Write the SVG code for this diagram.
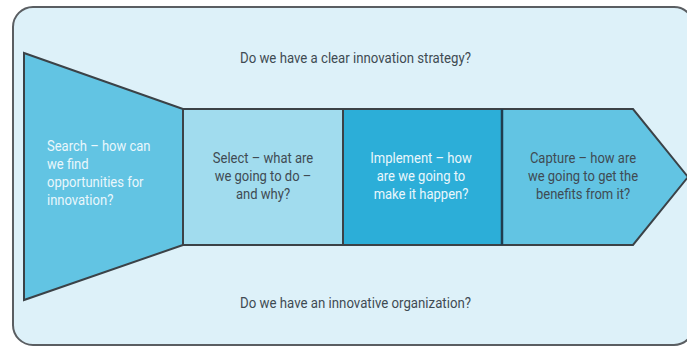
<svg xmlns="http://www.w3.org/2000/svg" width="687" height="347" viewBox="0 0 687 347">
<style>
.shape{stroke:#3b4247;stroke-width:2;stroke-linejoin:miter}
.t{font-family:Roboto,"Liberation Sans",sans-serif;font-size:14px}
.dark{fill:#3f4b53}
.light{fill:#eaf7fc}
.mid{text-anchor:middle}
</style>
<rect width="687" height="347" fill="#ffffff"/>
<g id="frame">
<rect x="13" y="7" width="681" height="338" rx="20" ry="20" fill="#ddf1f9" stroke="#5a5e62" stroke-width="2"/>
<text class="t dark" x="240" y="62.5" textLength="231" lengthAdjust="spacingAndGlyphs" font-size="15">Do we have a clear innovation strategy?</text>
<text class="t dark" x="240" y="307.5" textLength="231" lengthAdjust="spacingAndGlyphs" font-size="15">Do we have an innovative organization?</text>
</g>
<g id="search">
<polygon class="shape" points="24,53 183,109 183,245 24,300" fill="#62c4e3"/>
<g transform="translate(47,0) scale(0.93,1)">
<text class="t light" x="0" y="151">Search – how can</text>
<text class="t light" x="0" y="169">we find</text>
<text class="t light" x="0" y="187">opportunities for</text>
<text class="t light" x="0" y="205">innovation?</text>
</g>
</g>
<g id="select">
<rect class="shape" x="183" y="109" width="160" height="136" fill="#a1dcee"/>
<g transform="translate(263,0) scale(0.93,1)">
<text class="t dark mid" x="0" y="163">Select – what are</text>
<text class="t dark mid" x="0" y="181">we going to do –</text>
<text class="t dark mid" x="0" y="199">and why?</text>
</g>
</g>
<g id="implement">
<rect class="shape" x="343" y="109" width="159" height="136" fill="#2caed8"/>
<g transform="translate(421,0) scale(0.93,1)">
<text class="t light mid" x="0" y="163">Implement – how</text>
<text class="t light mid" x="0" y="181">are we going to</text>
<text class="t light mid" x="0" y="199">make it happen?</text>
</g>
</g>
<g id="capture">
<polygon class="shape" points="502,109 633,109 688,177 633,245 502,245" fill="#62c4e3"/>
<line x1="502" y1="109" x2="502" y2="245" stroke="#1f3d50" stroke-width="2.5"/>
<g transform="translate(583,0) scale(0.93,1)">
<text class="t dark mid" x="0" y="163">Capture – how are</text>
<text class="t dark mid" x="0" y="181">we going to get the</text>
<text class="t dark mid" x="0" y="199">benefits from it?</text>
</g>
</g>
<g id="connectors"></g>
</svg>
